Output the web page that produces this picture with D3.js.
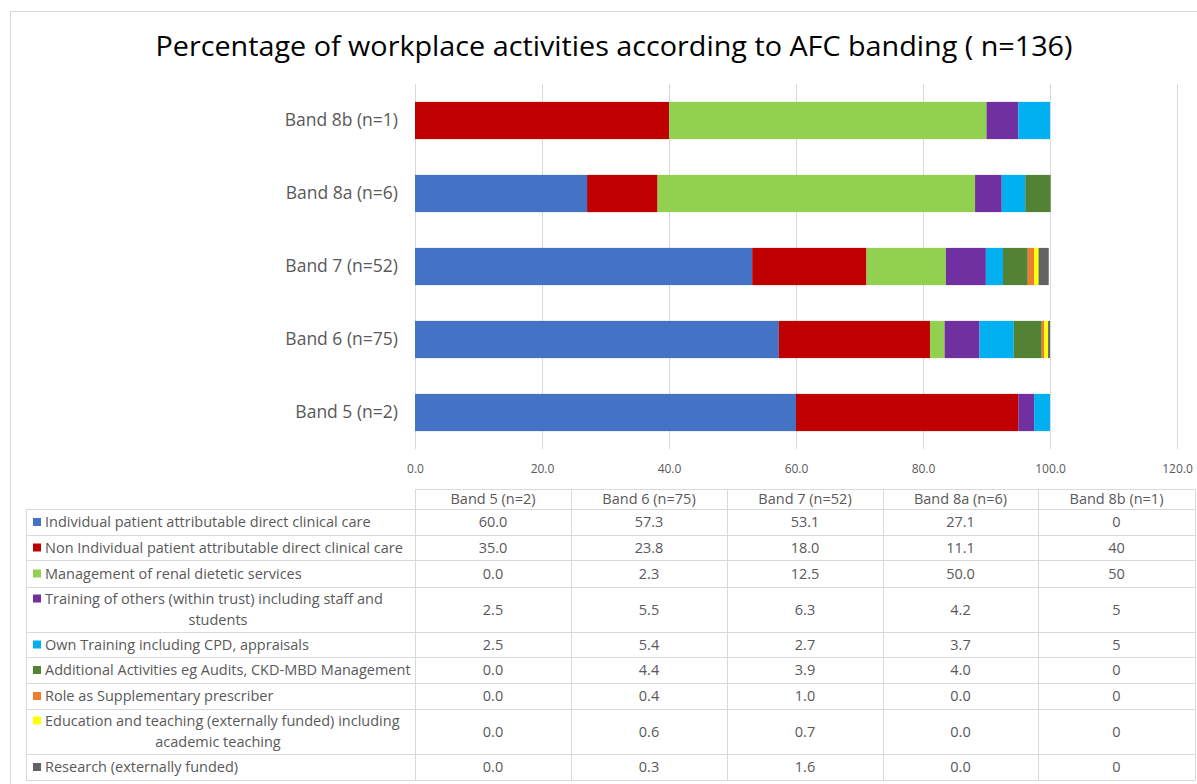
<!DOCTYPE html>
<html>
<head>
<meta charset="utf-8">
<script src="https://cdn.jsdelivr.net/npm/d3@7"></script>
<style>
  html, body { margin: 0; padding: 0; background: #ffffff; }
  svg { display: block; }
  text { font-family: "Open Sans", "Noto Sans", "DejaVu Sans", sans-serif; }
</style>
</head>
<body>
<svg id="chart" width="1197" height="784"></svg>
<script>
// ---------- data ----------
const chartTitle = "Percentage of workplace activities according to AFC banding ( n=136)";
const bands = ["Band 5 (n=2)", "Band 6 (n=75)", "Band 7 (n=52)", "Band 8a (n=6)", "Band 8b (n=1)"];
const bandDecimals = [1, 1, 1, 1, 0];
const seriesNames = [
  "Individual patient attributable direct clinical care",
  "Non Individual patient attributable direct clinical care",
  "Management of renal dietetic services",
  "Training of others (within trust) including staff and students",
  "Own Training including CPD, appraisals",
  "Additional Activities eg Audits, CKD-MBD Management",
  "Role as Supplementary prescriber",
  "Education and teaching (externally funded) including academic teaching",
  "Research (externally funded)"
];
const individualCare    = [60.0, 57.3, 53.1, 27.1, 0];
const nonIndividualCare = [35.0, 23.8, 18.0, 11.1, 40];
const management        = [0.0, 2.3, 12.5, 50.0, 50];
const trainingOthers    = [2.5, 5.5, 6.3, 4.2, 5];
const ownTraining       = [2.5, 5.4, 2.7, 3.7, 5];
const additional        = [0.0, 4.4, 3.9, 4.0, 0];
const prescriber        = [0.0, 0.4, 1.0, 0.0, 0];
const education         = [0.0, 0.6, 0.7, 0.0, 0];
const research          = [0.0, 0.3, 1.6, 0.0, 0];
const seriesValues = [individualCare, nonIndividualCare, management, trainingOthers,
                      ownTraining, additional, prescriber, education, research];
const seriesColors = ["#4472C4", "#C00000", "#92D050", "#7030A0", "#00B0F0",
                      "#548235", "#ED7D31", "#FFFF00", "#636363"];
const xTicks = [0, 20, 40, 60, 80, 100, 120];

// ---------- layout ----------
const svg = d3.select("#chart");
const grid = "#d9d9d9";
const textCol = "#595959";

// outer frame
svg.append("rect").attr("x", 10.5).attr("y", 11.5).attr("width", 1200).attr("height", 800)
  .attr("fill", "none").attr("stroke", grid);

// title
svg.append("text").attr("x", 614).attr("y", 56).attr("text-anchor", "middle")
  .attr("font-size", 27).attr("fill", "#000").text(chartTitle)
  .attr("textLength", 917).attr("lengthAdjust", "spacingAndGlyphs");

const plotLeft = 415, plotRight = 1177, plotTop = 84, plotBottom = 449;
const x = d3.scaleLinear().domain([0, 120]).range([plotLeft, plotRight]);
const y = d3.scaleBand().domain(bands.slice().reverse()).range([plotTop, plotBottom]).paddingInner(0.49).paddingOuter(0.245);

// gridlines
svg.append("g").selectAll("line").data(xTicks).join("line")
  .attr("x1", d => Math.round(x(d)) + 0.5).attr("x2", d => Math.round(x(d)) + 0.5)
  .attr("y1", plotTop).attr("y2", plotBottom)
  .attr("stroke", grid).attr("stroke-width", 1);

// stacked bars
const rows = bands.map((b, i) => {
  const o = { band: b };
  seriesNames.forEach((s, j) => { o[s] = seriesValues[j][i]; });
  return o;
});
const stacked = d3.stack().keys(seriesNames)(rows);
svg.append("g").selectAll("g").data(stacked).join("g")
  .attr("fill", (d, i) => seriesColors[i])
  .selectAll("rect").data(d => d).join("rect")
  .attr("x", d => x(d[0]))
  .attr("width", d => Math.max(0, x(d[1]) - x(d[0])))
  .attr("y", d => y(d.data.band))
  .attr("height", y.bandwidth());

// x axis labels
const xAxis = d3.axisBottom(x).tickValues(xTicks).tickFormat(d3.format(".1f")).tickSize(0).tickPadding(0);
const gx = svg.append("g").attr("transform", `translate(0,464)`).call(xAxis);
gx.select(".domain").remove();
gx.selectAll("text").attr("font-size", 12).attr("fill", textCol)
  .attr("font-family", "'Open Sans', sans-serif");

// y axis labels
const yAxis = d3.axisLeft(y).tickSize(0).tickPadding(17);
const gy = svg.append("g").attr("transform", `translate(${plotLeft},0)`).call(yAxis);
gy.select(".domain").remove();
gy.selectAll("text").attr("font-size", 17.5).attr("fill", textCol)
  .attr("font-family", "'Open Sans', sans-serif");

// ---------- data table ----------
const colEdges = [26, 415, 571, 727, 883, 1038, 1195];
const headerTop = 489, headerBottom = 509;
const rowHeights = [26, 25, 27, 45, 25, 26, 26, 45, 26];
const rowTops = [headerBottom];
rowHeights.forEach(h => rowTops.push(rowTops[rowTops.length - 1] + h));
const tableBottom = rowTops[rowTops.length - 1];
const tableFont = 14.5;

const tg = svg.append("g");
// horizontal lines
tg.append("line").attr("x1", colEdges[1]).attr("x2", colEdges[6])
  .attr("y1", headerTop + 0.5).attr("y2", headerTop + 0.5).attr("stroke", grid);
rowTops.forEach(t => {
  tg.append("line").attr("x1", colEdges[0]).attr("x2", colEdges[6])
    .attr("y1", t + 0.5).attr("y2", t + 0.5).attr("stroke", grid);
});
// vertical lines
colEdges.forEach((c, i) => {
  tg.append("line").attr("x1", c + 0.5).attr("x2", c + 0.5)
    .attr("y1", i === 0 ? headerBottom : headerTop).attr("y2", tableBottom)
    .attr("stroke", grid);
});

// header
bands.forEach((b, i) => {
  tg.append("text").attr("x", (colEdges[i + 1] + colEdges[i + 2]) / 2)
    .attr("y", headerTop + 15).attr("text-anchor", "middle")
    .attr("font-size", tableFont).attr("fill", textCol).text(b);
});

// legend labels (with wrapping for long ones)
const wrapAt = {3: ["Training of others (within trust) including staff and", "students"],
                7: ["Education and teaching (externally funded) including", "academic teaching"]};
seriesNames.forEach((s, j) => {
  const top = rowTops[j], h = rowHeights[j];
  const lines = wrapAt[j] || [s];
  const firstY = lines.length === 1 ? top + h / 2 + 5 : top + h / 2 - 6;
  tg.append("rect").attr("x", 33).attr("y", firstY - 9).attr("width", 8).attr("height", 8)
    .attr("fill", seriesColors[j]);
  tg.append("text").attr("x", 45).attr("y", firstY)
    .attr("font-size", tableFont).attr("fill", textCol).text(lines[0]);
  if (lines.length > 1) {
    tg.append("text").attr("x", 218).attr("y", firstY + 21).attr("text-anchor", "middle")
      .attr("font-size", tableFont).attr("fill", textCol).text(lines[1]);
  }
  // values
  bands.forEach((b, i) => {
    tg.append("text").attr("x", (colEdges[i + 1] + colEdges[i + 2]) / 2)
      .attr("y", top + h / 2 + 5).attr("text-anchor", "middle")
      .attr("font-size", tableFont).attr("fill", textCol)
      .text(seriesValues[j][i].toFixed(bandDecimals[i]));
  });
});
</script>
</body>
</html>
